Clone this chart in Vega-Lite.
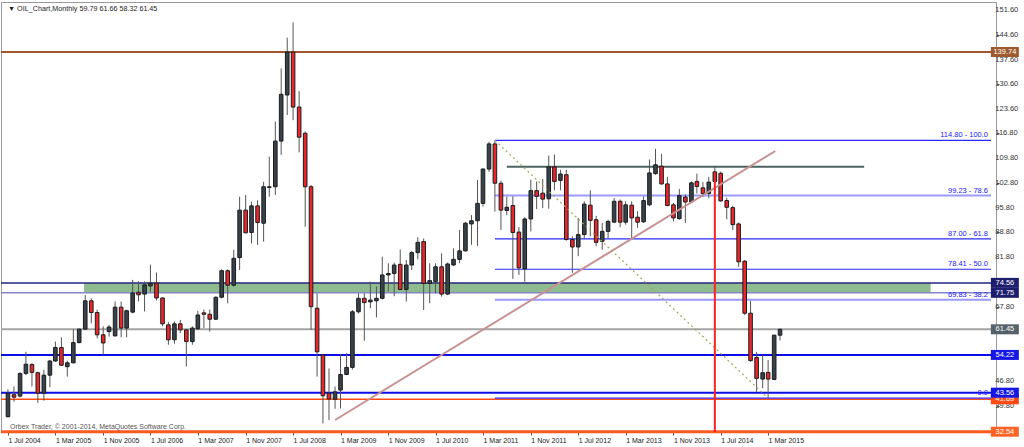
{
  "$schema": "https://vega.github.io/schema/vega-lite/v6.json",
  "width": 995,
  "height": 430,
  "autosize": {"type": "none"},
  "padding": {"left": 1, "top": 2, "right": 28, "bottom": 15},
  "background": "white",
  "config": {
    "view": {"stroke": "#9a9a9a", "strokeWidth": 1},
    "font": "Liberation Sans",
    "axis": {"labelOverlap": false, "labelFlush": false, "grid": false, "title": null, "tickColor": "#555555", "tickSize": 3, "labelColor": "#222222"}
  },
  "datasets": {
    "candles": [
      {"date": "2004-07-01", "open": 36.8, "high": 44.5, "low": 36.5, "close": 43.4},
      {"date": "2004-08-01", "open": 43.0, "high": 45.3, "low": 41.0, "close": 42.3},
      {"date": "2004-09-01", "open": 42.6, "high": 49.3, "low": 42.2, "close": 49.0},
      {"date": "2004-10-01", "open": 49.0, "high": 55.1, "low": 48.5, "close": 51.6},
      {"date": "2004-11-01", "open": 51.5, "high": 51.9, "low": 45.3, "close": 49.3},
      {"date": "2004-12-01", "open": 49.2, "high": 49.5, "low": 40.7, "close": 43.4},
      {"date": "2005-01-01", "open": 43.4, "high": 50.0, "low": 41.3, "close": 48.5},
      {"date": "2005-02-01", "open": 48.5, "high": 52.8, "low": 45.1, "close": 52.5},
      {"date": "2005-03-01", "open": 52.5, "high": 58.0, "low": 52.3, "close": 56.3},
      {"date": "2005-04-01", "open": 56.3, "high": 59.2, "low": 51.1, "close": 51.3},
      {"date": "2005-05-01", "open": 50.9, "high": 52.6, "low": 48.1, "close": 52.0},
      {"date": "2005-06-01", "open": 52.0, "high": 61.5, "low": 51.8, "close": 57.7},
      {"date": "2005-07-01", "open": 57.7, "high": 61.6, "low": 57.5, "close": 61.5},
      {"date": "2005-08-01", "open": 61.5, "high": 71.1, "low": 61.3, "close": 69.5},
      {"date": "2005-09-01", "open": 69.5, "high": 70.2, "low": 63.1, "close": 66.2},
      {"date": "2005-10-01", "open": 66.2, "high": 67.0, "low": 58.9, "close": 59.9},
      {"date": "2005-11-01", "open": 59.9, "high": 62.3, "low": 54.3, "close": 57.6},
      {"date": "2005-12-01", "open": 60.8, "high": 62.7, "low": 59.4, "close": 62.1},
      {"date": "2006-01-01", "open": 59.6, "high": 69.3, "low": 59.4, "close": 67.7},
      {"date": "2006-02-01", "open": 67.7, "high": 69.3, "low": 59.2, "close": 61.8},
      {"date": "2006-03-01", "open": 61.8, "high": 67.0, "low": 59.2, "close": 66.7},
      {"date": "2006-04-01", "open": 66.3, "high": 75.4, "low": 66.0, "close": 71.7},
      {"date": "2006-05-01", "open": 71.9, "high": 75.0, "low": 69.3, "close": 71.2},
      {"date": "2006-06-01", "open": 71.4, "high": 75.0, "low": 66.5, "close": 74.0},
      {"date": "2006-07-01", "open": 73.7, "high": 79.7, "low": 72.1, "close": 74.5},
      {"date": "2006-08-01", "open": 74.5, "high": 77.5, "low": 69.6, "close": 70.3},
      {"date": "2006-09-01", "open": 70.3, "high": 70.5, "low": 62.3, "close": 63.0},
      {"date": "2006-10-01", "open": 62.7, "high": 63.5, "low": 57.1, "close": 58.5},
      {"date": "2006-11-01", "open": 58.5, "high": 63.7, "low": 57.4, "close": 63.0},
      {"date": "2006-12-01", "open": 63.0, "high": 64.1, "low": 60.4, "close": 61.3},
      {"date": "2007-01-01", "open": 61.3, "high": 61.5, "low": 50.96, "close": 58.0},
      {"date": "2007-02-01", "open": 58.0, "high": 62.3, "low": 57.1, "close": 61.8},
      {"date": "2007-03-01", "open": 61.6, "high": 66.7, "low": 61.3, "close": 65.5},
      {"date": "2007-04-01", "open": 66.1, "high": 67.0, "low": 61.8, "close": 65.7},
      {"date": "2007-05-01", "open": 65.7, "high": 67.0, "low": 60.8, "close": 64.3},
      {"date": "2007-06-01", "open": 64.3, "high": 70.7, "low": 64.1, "close": 70.5},
      {"date": "2007-07-01", "open": 70.5, "high": 78.4, "low": 70.2, "close": 78.0},
      {"date": "2007-08-01", "open": 78.0, "high": 78.4, "low": 68.8, "close": 73.9},
      {"date": "2007-09-01", "open": 73.9, "high": 83.9, "low": 73.5, "close": 81.5},
      {"date": "2007-10-01", "open": 81.7, "high": 98.9, "low": 78.2, "close": 95.1},
      {"date": "2007-11-01", "open": 95.1, "high": 99.4, "low": 88.6, "close": 88.7},
      {"date": "2007-12-01", "open": 88.8, "high": 97.5, "low": 85.7, "close": 96.3},
      {"date": "2008-01-01", "open": 96.3, "high": 97.9, "low": 85.3, "close": 91.6},
      {"date": "2008-02-01", "open": 91.4, "high": 103.1, "low": 86.2, "close": 101.7},
      {"date": "2008-03-01", "open": 101.7, "high": 110.2, "low": 98.9, "close": 101.5},
      {"date": "2008-04-01", "open": 101.7, "high": 120.1, "low": 99.4, "close": 114.6},
      {"date": "2008-05-01", "open": 114.6, "high": 135.1, "low": 110.7, "close": 127.8},
      {"date": "2008-06-01", "open": 127.6, "high": 143.8, "low": 121.96, "close": 139.74},
      {"date": "2008-07-01", "open": 139.74, "high": 148.1, "low": 120.5, "close": 124.2},
      {"date": "2008-08-01", "open": 124.2, "high": 128.7, "low": 111.4, "close": 115.7},
      {"date": "2008-09-01", "open": 116.8, "high": 117.3, "low": 90.4, "close": 101.7},
      {"date": "2008-10-01", "open": 101.7, "high": 102.2, "low": 61.3, "close": 67.85},
      {"date": "2008-11-01", "open": 67.4, "high": 71.6, "low": 48.1, "close": 55.1},
      {"date": "2008-12-01", "open": 54.2, "high": 54.5, "low": 34.9, "close": 42.7},
      {"date": "2009-01-01", "open": 43.4, "high": 50.4, "low": 35.8, "close": 41.8},
      {"date": "2009-02-01", "open": 41.7, "high": 45.3, "low": 39.0, "close": 43.8},
      {"date": "2009-03-01", "open": 44.3, "high": 54.5, "low": 39.1, "close": 48.7},
      {"date": "2009-04-01", "open": 48.7, "high": 54.7, "low": 48.5, "close": 50.7},
      {"date": "2009-05-01", "open": 50.7, "high": 66.9, "low": 50.1, "close": 66.4},
      {"date": "2009-06-01", "open": 66.4, "high": 71.6, "low": 65.9, "close": 70.2},
      {"date": "2009-07-01", "open": 70.2, "high": 71.6, "low": 58.2, "close": 69.0},
      {"date": "2009-08-01", "open": 69.2, "high": 74.9, "low": 67.4, "close": 69.7},
      {"date": "2009-09-01", "open": 69.5, "high": 73.5, "low": 64.8, "close": 70.2},
      {"date": "2009-10-01", "open": 70.2, "high": 81.96, "low": 69.9, "close": 76.8},
      {"date": "2009-11-01", "open": 76.8, "high": 80.1, "low": 72.1, "close": 77.2},
      {"date": "2009-12-01", "open": 77.2, "high": 80.3, "low": 70.8, "close": 79.6},
      {"date": "2010-01-01", "open": 79.8, "high": 84.0, "low": 72.5, "close": 72.7},
      {"date": "2010-02-01", "open": 72.7, "high": 81.0, "low": 69.3, "close": 79.6},
      {"date": "2010-03-01", "open": 79.6, "high": 83.6, "low": 78.2, "close": 83.1},
      {"date": "2010-04-01", "open": 83.1, "high": 87.4, "low": 81.2, "close": 86.0},
      {"date": "2010-05-01", "open": 86.2, "high": 87.1, "low": 66.9, "close": 74.4},
      {"date": "2010-06-01", "open": 74.4, "high": 80.1, "low": 68.8, "close": 75.2},
      {"date": "2010-07-01", "open": 74.9, "high": 80.1, "low": 71.6, "close": 79.1},
      {"date": "2010-08-01", "open": 79.1, "high": 82.9, "low": 70.7, "close": 71.4},
      {"date": "2010-09-01", "open": 71.4, "high": 80.3, "low": 71.1, "close": 79.9},
      {"date": "2010-10-01", "open": 79.6, "high": 84.3, "low": 79.3, "close": 81.2},
      {"date": "2010-11-01", "open": 81.2, "high": 89.5, "low": 80.1, "close": 83.6},
      {"date": "2010-12-01", "open": 83.6, "high": 91.8, "low": 83.4, "close": 91.4},
      {"date": "2011-01-01", "open": 91.2, "high": 93.7, "low": 85.3, "close": 92.1},
      {"date": "2011-02-01", "open": 92.1, "high": 103.6, "low": 85.0, "close": 97.0},
      {"date": "2011-03-01", "open": 97.0, "high": 106.9, "low": 96.1, "close": 106.7},
      {"date": "2011-04-01", "open": 106.7, "high": 114.4, "low": 105.9, "close": 113.8},
      {"date": "2011-05-01", "open": 113.8, "high": 114.8, "low": 94.7, "close": 102.7},
      {"date": "2011-06-01", "open": 102.7, "high": 103.4, "low": 89.5, "close": 95.1},
      {"date": "2011-07-01", "open": 95.0, "high": 98.9, "low": 93.7, "close": 95.9},
      {"date": "2011-08-01", "open": 96.4, "high": 99.0, "low": 75.7, "close": 88.8},
      {"date": "2011-09-01", "open": 88.9, "high": 90.3, "low": 76.8, "close": 78.8},
      {"date": "2011-10-01", "open": 78.5, "high": 93.1, "low": 74.9, "close": 92.6},
      {"date": "2011-11-01", "open": 92.6, "high": 103.7, "low": 89.1, "close": 100.6},
      {"date": "2011-12-01", "open": 100.6, "high": 103.2, "low": 95.4, "close": 99.0},
      {"date": "2012-01-01", "open": 99.9, "high": 103.9, "low": 95.7, "close": 98.2},
      {"date": "2012-02-01", "open": 98.3, "high": 110.5, "low": 95.5, "close": 107.3},
      {"date": "2012-03-01", "open": 107.3, "high": 110.8, "low": 100.7, "close": 103.2},
      {"date": "2012-04-01", "open": 103.5, "high": 106.5, "low": 100.7, "close": 105.3},
      {"date": "2012-05-01", "open": 105.1, "high": 106.5, "low": 86.5, "close": 86.8},
      {"date": "2012-06-01", "open": 86.8, "high": 87.7, "low": 77.4, "close": 84.7},
      {"date": "2012-07-01", "open": 84.7, "high": 92.9, "low": 82.1, "close": 88.2},
      {"date": "2012-08-01", "open": 88.2, "high": 97.6, "low": 87.0, "close": 96.8},
      {"date": "2012-09-01", "open": 96.5, "high": 100.7, "low": 87.7, "close": 92.2},
      {"date": "2012-10-01", "open": 92.4, "high": 93.5, "low": 84.9, "close": 86.0},
      {"date": "2012-11-01", "open": 86.3, "high": 91.5, "low": 83.9, "close": 89.1},
      {"date": "2012-12-01", "open": 89.1, "high": 92.4, "low": 87.2, "close": 91.9},
      {"date": "2013-01-01", "open": 91.7, "high": 98.5, "low": 91.5, "close": 97.6},
      {"date": "2013-02-01", "open": 97.6, "high": 98.1, "low": 90.3, "close": 91.7},
      {"date": "2013-03-01", "open": 91.7, "high": 97.6, "low": 91.0, "close": 96.6},
      {"date": "2013-04-01", "open": 96.5, "high": 97.6, "low": 86.8, "close": 92.9},
      {"date": "2013-05-01", "open": 93.1, "high": 94.8, "low": 90.1, "close": 91.7},
      {"date": "2013-06-01", "open": 91.8, "high": 99.0, "low": 91.5, "close": 97.8},
      {"date": "2013-07-01", "open": 96.6, "high": 109.4, "low": 96.2, "close": 105.6},
      {"date": "2013-08-01", "open": 105.4, "high": 112.4, "low": 105.1, "close": 107.9},
      {"date": "2013-09-01", "open": 107.5, "high": 111.0, "low": 102.3, "close": 102.5},
      {"date": "2013-10-01", "open": 102.5, "high": 104.5, "low": 96.2, "close": 96.4},
      {"date": "2013-11-01", "open": 96.6, "high": 97.1, "low": 91.9, "close": 92.9},
      {"date": "2013-12-01", "open": 92.7, "high": 101.1, "low": 92.4, "close": 99.2},
      {"date": "2014-01-01", "open": 98.8, "high": 99.5, "low": 91.5, "close": 97.4},
      {"date": "2014-02-01", "open": 97.4, "high": 103.2, "low": 97.1, "close": 102.8},
      {"date": "2014-03-01", "open": 103.2, "high": 105.4, "low": 99.8, "close": 101.8},
      {"date": "2014-04-01", "open": 101.4, "high": 103.0, "low": 98.8, "close": 99.8},
      {"date": "2014-05-01", "open": 99.8, "high": 104.5, "low": 98.5, "close": 103.0},
      {"date": "2014-06-01", "open": 103.2, "high": 107.6, "low": 103.0, "close": 105.9},
      {"date": "2014-07-01", "open": 105.5, "high": 106.0, "low": 97.5, "close": 97.7},
      {"date": "2014-08-01", "open": 97.8, "high": 98.6, "low": 92.5, "close": 95.9},
      {"date": "2014-09-01", "open": 95.8, "high": 96.3, "low": 89.5, "close": 91.0},
      {"date": "2014-10-01", "open": 91.2, "high": 91.6, "low": 79.1, "close": 80.5},
      {"date": "2014-11-01", "open": 80.7, "high": 81.0, "low": 65.5, "close": 66.0},
      {"date": "2014-12-01", "open": 66.0, "high": 69.5, "low": 52.3, "close": 52.6},
      {"date": "2015-01-01", "open": 53.5, "high": 55.1, "low": 43.8, "close": 47.6},
      {"date": "2015-02-01", "open": 47.4, "high": 54.2, "low": 44.8, "close": 49.2},
      {"date": "2015-03-01", "open": 49.3, "high": 52.8, "low": 42.02, "close": 47.4},
      {"date": "2015-04-01", "open": 47.3, "high": 59.9, "low": 47.1, "close": 59.8},
      {"date": "2015-05-01", "open": 59.79, "high": 61.66, "low": 58.32, "close": 61.45}
    ]
  },
  "layer": [
    {
      "data": {"values": [{"start": "2005-07-26", "end": "2017-06-11", "top": 74.56, "bottom": 71.75}]},
      "mark": {"type": "rect", "fill": "#8fbc8f"},
      "encoding": {
        "x": {"field": "start", "type": "temporal", "scale": {"type": "utc", "domain": [{"year": 2004, "month": 6, "date": 21, "utc": true}, {"year": 2018, "month": 4, "date": 16, "utc": true}]}, "title": null,
          "axis": {"values": [{"year": 2004, "month": 7, "date": 1, "utc": true}, {"year": 2005, "month": 3, "date": 1, "utc": true}, {"year": 2005, "month": 11, "date": 1, "utc": true}, {"year": 2006, "month": 7, "date": 1, "utc": true}, {"year": 2007, "month": 3, "date": 1, "utc": true}, {"year": 2007, "month": 11, "date": 1, "utc": true}, {"year": 2008, "month": 7, "date": 1, "utc": true}, {"year": 2009, "month": 3, "date": 1, "utc": true}, {"year": 2009, "month": 11, "date": 1, "utc": true}, {"year": 2010, "month": 7, "date": 1, "utc": true}, {"year": 2011, "month": 3, "date": 1, "utc": true}, {"year": 2011, "month": 11, "date": 1, "utc": true}, {"year": 2012, "month": 7, "date": 1, "utc": true}, {"year": 2013, "month": 3, "date": 1, "utc": true}, {"year": 2013, "month": 11, "date": 1, "utc": true}, {"year": 2014, "month": 7, "date": 1, "utc": true}, {"year": 2015, "month": 3, "date": 1, "utc": true}],
            "labelExpr": "utcFormat(datum.value, '%-d %b %Y')", "labelAlign": "left", "labelFontSize": 7, "labelPadding": 1, "domain": false, "labelOverlap": false}},
        "x2": {"field": "end"},
        "y": {"field": "top", "type": "quantitative", "scale": {"domain": [32.46, 153.86]}, "title": null,
          "axis": {"orient": "right", "values": [151.6, 144.6, 137.6, 130.6, 123.6, 116.8, 109.8, 102.8, 95.8, 88.8, 81.8, 67.8, 46.8, 39.8], "labels": false, "domainColor": "#9a9a9a"}},
        "y2": {"field": "bottom"}
      }
    },
    {
      "data": {"values": [{"price": 151.6}, {"price": 144.6}, {"price": 137.6}, {"price": 130.6}, {"price": 123.6}, {"price": 116.8}, {"price": 109.8}, {"price": 102.8}, {"price": 95.8}, {"price": 88.8}, {"price": 81.8}, {"price": 67.8}, {"price": 46.8}, {"price": 39.8}]},
      "mark": {"type": "text", "align": "left", "baseline": "middle", "fontSize": 7.5, "fill": "#333333"},
      "encoding": {
        "x": {"datum": {"year": 2018, "month": 5, "date": 8, "utc": true}, "type": "temporal", "scale": {"type": "utc", "domain": [{"year": 2004, "month": 6, "date": 21, "utc": true}, {"year": 2018, "month": 4, "date": 16, "utc": true}]}, "title": null},
        "y": {"field": "price", "type": "quantitative", "scale": {"domain": [32.46, 153.86]}, "title": null},
        "text": {"field": "price", "type": "quantitative", "format": ".2f"}
      }
    },
    {
      "data": {"values": [{"price": 139.74, "label": "139.74"}, {"price": 61.45, "label": "61.45"}, {"price": 54.22, "label": "54.22"}, {"price": 43.56, "label": "43.56"}]},
      "mark": {"type": "rule", "strokeWidth": 2},
      "encoding": {
        "y": {"field": "price", "type": "quantitative", "scale": {"domain": [32.46, 153.86]}, "title": null},
        "stroke": {"field": "label", "type": "nominal", "legend": null, "scale": {"domain": ["139.74", "74.56", "71.75", "61.45", "54.22", "43.56", "41.69", "32.54"], "range": ["#a0582a", "#252580", "#8484c8", "#a4a4a4", "#0c0ce8", "#0c0ce8", "#ff4a12", "#ff5a1e"]}}
      }
    },
    {
      "data": {"values": [{"price": 74.56, "label": "74.56"}, {"price": 71.75, "label": "71.75"}, {"price": 41.69, "label": "41.69"}]},
      "mark": {"type": "rule", "strokeWidth": 1.5},
      "encoding": {
        "y": {"field": "price", "type": "quantitative", "scale": {"domain": [32.46, 153.86]}, "title": null},
        "stroke": {"field": "label", "type": "nominal", "legend": null, "scale": {"domain": ["139.74", "74.56", "71.75", "61.45", "54.22", "43.56", "41.69", "32.54"], "range": ["#a0582a", "#252580", "#8484c8", "#a4a4a4", "#0c0ce8", "#0c0ce8", "#ff4a12", "#ff5a1e"]}}
      }
    },
    {
      "data": {"values": [{"price": 32.54, "label": "32.54"}]},
      "mark": {"type": "rule", "strokeWidth": 3},
      "encoding": {
        "y": {"field": "price", "type": "quantitative", "scale": {"domain": [32.46, 153.86]}, "title": null},
        "stroke": {"field": "label", "type": "nominal", "legend": null, "scale": {"domain": ["139.74", "74.56", "71.75", "61.45", "54.22", "43.56", "41.69", "32.54"], "range": ["#a0582a", "#252580", "#8484c8", "#a4a4a4", "#0c0ce8", "#0c0ce8", "#ff4a12", "#ff5a1e"]}}
      }
    },
    {
      "data": {"values": [{"start": "2011-05-01", "end": "2018-04-16", "level": 114.8}, {"start": "2011-05-01", "end": "2018-04-16", "level": 87.0}, {"start": "2011-05-01", "end": "2018-04-16", "level": 78.41}, {"start": "2011-05-01", "end": "2018-04-16", "level": 42.02}]},
      "mark": {"type": "rule", "stroke": "#2a2aff", "strokeWidth": 1.2},
      "encoding": {
        "x": {"field": "start", "type": "temporal", "scale": {"type": "utc", "domain": [{"year": 2004, "month": 6, "date": 21, "utc": true}, {"year": 2018, "month": 4, "date": 16, "utc": true}]}, "title": null},
        "x2": {"field": "end"},
        "y": {"field": "level", "type": "quantitative", "scale": {"domain": [32.46, 153.86]}, "title": null}
      }
    },
    {
      "data": {"values": [{"start": "2011-05-01", "end": "2018-04-16", "level": 99.23}, {"start": "2011-05-01", "end": "2018-04-16", "level": 69.83}]},
      "mark": {"type": "rule", "stroke": "#9a9aff", "strokeWidth": 2},
      "encoding": {
        "x": {"field": "start", "type": "temporal", "scale": {"type": "utc", "domain": [{"year": 2004, "month": 6, "date": 21, "utc": true}, {"year": 2018, "month": 4, "date": 16, "utc": true}]}, "title": null},
        "x2": {"field": "end"},
        "y": {"field": "level", "type": "quantitative", "scale": {"domain": [32.46, 153.86]}, "title": null}
      }
    },
    {
      "data": {"values": [{"end": "2018-04-16", "level": 114.8, "text": "114.80 - 100.0"}, {"end": "2018-04-16", "level": 99.23, "text": "99.23 - 78.6"}, {"end": "2018-04-16", "level": 87.0, "text": "87.00 - 61.8"}, {"end": "2018-04-16", "level": 78.41, "text": "78.41 - 50.0"}, {"end": "2018-04-16", "level": 69.83, "text": "69.83 - 38.2"}, {"end": "2018-04-16", "level": 42.02, "text": "0.0"}]},
      "mark": {"type": "text", "align": "right", "baseline": "bottom", "dx": -3, "dy": -1, "fontSize": 7.5, "fill": "#2020ff"},
      "encoding": {
        "x": {"field": "end", "type": "temporal", "scale": {"type": "utc", "domain": [{"year": 2004, "month": 6, "date": 21, "utc": true}, {"year": 2018, "month": 4, "date": 16, "utc": true}]}, "title": null},
        "y": {"field": "level", "type": "quantitative", "scale": {"domain": [32.46, 153.86]}, "title": null},
        "text": {"field": "text"}
      }
    },
    {
      "data": {"values": [{"start": "2011-07-01", "end": "2016-07-05", "level": 107.37}]},
      "mark": {"type": "rule", "stroke": "#4e6262", "strokeWidth": 2},
      "encoding": {
        "x": {"field": "start", "type": "temporal", "scale": {"type": "utc", "domain": [{"year": 2004, "month": 6, "date": 21, "utc": true}, {"year": 2018, "month": 4, "date": 16, "utc": true}]}, "title": null},
        "x2": {"field": "end"},
        "y": {"field": "level", "type": "quantitative", "scale": {"domain": [32.46, 153.86]}, "title": null}
      }
    },
    {
      "data": {"name": "candles"},
      "mark": {"type": "rule", "stroke": "#555555", "strokeWidth": 1},
      "encoding": {
        "x": {"field": "date", "type": "temporal", "scale": {"type": "utc", "domain": [{"year": 2004, "month": 6, "date": 21, "utc": true}, {"year": 2018, "month": 4, "date": 16, "utc": true}]}, "title": null},
        "y": {"field": "low", "type": "quantitative", "scale": {"domain": [32.46, 153.86]}, "title": null},
        "y2": {"field": "high"}
      }
    },
    {
      "data": {"name": "candles"},
      "mark": {"type": "bar", "size": 3.6, "stroke": "#1c1c1c", "strokeWidth": 1},
      "encoding": {
        "x": {"field": "date", "type": "temporal", "scale": {"type": "utc", "domain": [{"year": 2004, "month": 6, "date": 21, "utc": true}, {"year": 2018, "month": 4, "date": 16, "utc": true}]}, "title": null},
        "y": {"field": "open", "type": "quantitative", "scale": {"domain": [32.46, 153.86]}, "title": null},
        "y2": {"field": "close"},
        "fill": {"condition": {"test": "datum.close >= datum.open", "value": "#36424c"}, "value": "#e8262c"}
      }
    },
    {
      "data": {"values": [{"date": "2009-02-01", "price": 35.85}, {"date": "2015-04-07", "price": 111.79}]},
      "mark": {"type": "line", "stroke": "#c89090", "strokeWidth": 2},
      "encoding": {
        "x": {"field": "date", "type": "temporal", "scale": {"type": "utc", "domain": [{"year": 2004, "month": 6, "date": 21, "utc": true}, {"year": 2018, "month": 4, "date": 16, "utc": true}]}, "title": null},
        "y": {"field": "price", "type": "quantitative", "scale": {"domain": [32.46, 153.86]}, "title": null}
      }
    },
    {
      "data": {"values": [{"date": "2011-05-01", "price": 114.8}, {"date": "2015-03-01", "price": 42.02}]},
      "mark": {"type": "line", "stroke": "#a8a850", "strokeWidth": 1.2, "strokeDash": [2, 3]},
      "encoding": {
        "x": {"field": "date", "type": "temporal", "scale": {"type": "utc", "domain": [{"year": 2004, "month": 6, "date": 21, "utc": true}, {"year": 2018, "month": 4, "date": 16, "utc": true}]}, "title": null},
        "y": {"field": "price", "type": "quantitative", "scale": {"domain": [32.46, 153.86]}, "title": null}
      }
    },
    {
      "data": {"values": [{"date": "2014-06-01", "top": 105.8, "bottom": 32.46}]},
      "mark": {"type": "rule", "stroke": "#ff2020", "strokeWidth": 2},
      "encoding": {
        "x": {"field": "date", "type": "temporal", "scale": {"type": "utc", "domain": [{"year": 2004, "month": 6, "date": 21, "utc": true}, {"year": 2018, "month": 4, "date": 16, "utc": true}]}, "title": null},
        "y": {"field": "top", "type": "quantitative", "scale": {"domain": [32.46, 153.86]}, "title": null},
        "y2": {"field": "bottom"}
      }
    },
    {
      "data": {"values": [{"price": 41.69, "label": "41.69"}]},
      "mark": {"type": "tick", "orient": "horizontal", "size": 28, "thickness": 10, "opacity": 1},
      "encoding": {
        "x": {"datum": {"year": 2018, "month": 6, "date": 26, "utc": true}, "type": "temporal", "scale": {"type": "utc", "domain": [{"year": 2004, "month": 6, "date": 21, "utc": true}, {"year": 2018, "month": 4, "date": 16, "utc": true}]}, "title": null},
        "y": {"field": "price", "type": "quantitative", "scale": {"domain": [32.46, 153.86]}, "title": null},
        "fill": {"field": "label", "type": "nominal", "legend": null, "scale": {"domain": ["139.74", "74.56", "71.75", "61.45", "54.22", "43.56", "41.69", "32.54"], "range": ["#9e5a2e", "#1e1e6e", "#1e1e6e", "#56626a", "#1616e6", "#1616e6", "#ff4a12", "#ff6424"]}}
      }
    },
    {
      "data": {"values": [{"price": 41.69, "label": "41.69"}]},
      "mark": {"type": "text", "fill": "white", "fontSize": 7.5, "align": "center", "baseline": "middle"},
      "encoding": {
        "x": {"datum": {"year": 2018, "month": 6, "date": 26, "utc": true}, "type": "temporal", "scale": {"type": "utc", "domain": [{"year": 2004, "month": 6, "date": 21, "utc": true}, {"year": 2018, "month": 4, "date": 16, "utc": true}]}, "title": null},
        "y": {"field": "price", "type": "quantitative", "scale": {"domain": [32.46, 153.86]}, "title": null},
        "text": {"field": "label"}
      }
    },
    {
      "data": {"values": [{"price": 139.74, "label": "139.74"}, {"price": 74.56, "label": "74.56"}, {"price": 71.75, "label": "71.75"}, {"price": 61.45, "label": "61.45"}, {"price": 54.22, "label": "54.22"}, {"price": 43.56, "label": "43.56"}, {"price": 32.54, "label": "32.54"}]},
      "mark": {"type": "tick", "orient": "horizontal", "size": 28, "thickness": 10, "opacity": 1},
      "encoding": {
        "x": {"datum": {"year": 2018, "month": 6, "date": 26, "utc": true}, "type": "temporal", "scale": {"type": "utc", "domain": [{"year": 2004, "month": 6, "date": 21, "utc": true}, {"year": 2018, "month": 4, "date": 16, "utc": true}]}, "title": null},
        "y": {"field": "price", "type": "quantitative", "scale": {"domain": [32.46, 153.86]}, "title": null},
        "fill": {"field": "label", "type": "nominal", "legend": null, "scale": {"domain": ["139.74", "74.56", "71.75", "61.45", "54.22", "43.56", "41.69", "32.54"], "range": ["#9e5a2e", "#1e1e6e", "#1e1e6e", "#56626a", "#1616e6", "#1616e6", "#ff4a12", "#ff6424"]}}
      }
    },
    {
      "data": {"values": [{"price": 139.74, "label": "139.74"}, {"price": 74.56, "label": "74.56"}, {"price": 71.75, "label": "71.75"}, {"price": 61.45, "label": "61.45"}, {"price": 54.22, "label": "54.22"}, {"price": 43.56, "label": "43.56"}, {"price": 32.54, "label": "32.54"}]},
      "mark": {"type": "text", "fill": "white", "fontSize": 7.5, "align": "center", "baseline": "middle"},
      "encoding": {
        "x": {"datum": {"year": 2018, "month": 6, "date": 26, "utc": true}, "type": "temporal", "scale": {"type": "utc", "domain": [{"year": 2004, "month": 6, "date": 21, "utc": true}, {"year": 2018, "month": 4, "date": 16, "utc": true}]}, "title": null},
        "y": {"field": "price", "type": "quantitative", "scale": {"domain": [32.46, 153.86]}, "title": null},
        "text": {"field": "label"}
      }
    },
    {
      "data": {"values": [{"date": "2004-06-21", "price": 153.86, "text": "▼ OIL_Chart,Monthly  59.79 61.66 58.32 61.45"}]},
      "mark": {"type": "text", "align": "left", "baseline": "middle", "dx": 2, "dy": 7, "fontSize": 7.2, "fill": "#222222"},
      "encoding": {
        "x": {"field": "date", "type": "temporal", "scale": {"type": "utc", "domain": [{"year": 2004, "month": 6, "date": 21, "utc": true}, {"year": 2018, "month": 4, "date": 16, "utc": true}]}, "title": null},
        "y": {"field": "price", "type": "quantitative", "scale": {"domain": [32.46, 153.86]}, "title": null},
        "text": {"field": "text"}
      }
    },
    {
      "data": {"values": [{"date": "2004-06-21", "price": 32.46, "text": "Orbex Trader, © 2001-2014, MetaQuotes Software Corp."}]},
      "mark": {"type": "text", "align": "left", "baseline": "middle", "dx": 4, "dy": -5, "fontSize": 7, "fill": "#555555"},
      "encoding": {
        "x": {"field": "date", "type": "temporal", "scale": {"type": "utc", "domain": [{"year": 2004, "month": 6, "date": 21, "utc": true}, {"year": 2018, "month": 4, "date": 16, "utc": true}]}, "title": null},
        "y": {"field": "price", "type": "quantitative", "scale": {"domain": [32.46, 153.86]}, "title": null},
        "text": {"field": "text"}
      }
    }
  ]
}
